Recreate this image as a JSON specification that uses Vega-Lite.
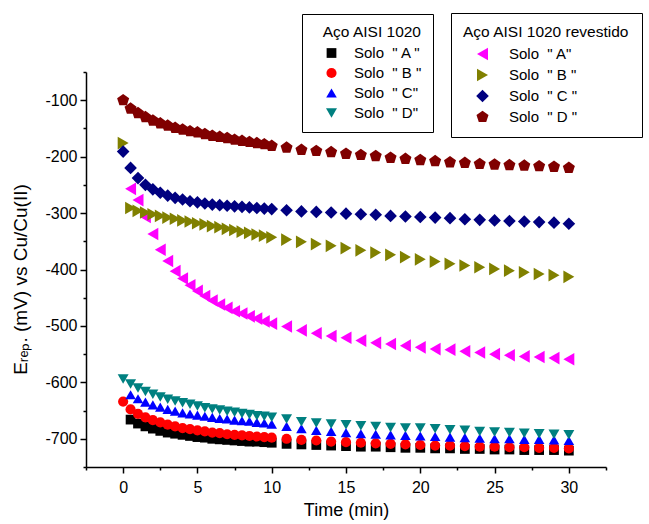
{
  "$schema": "https://vega.github.io/schema/vega-lite/v6.json",
  "autosize": {"type": "none"},
  "width": 520,
  "height": 395,
  "padding": {"left": 86, "top": 72, "right": 43, "bottom": 57},
  "background": "white",
  "datasets": {
    "plain": [
      {"t":0.5,"v":-666,"s":"A"},{"t":1,"v":-673,"s":"A"},{"t":1.5,"v":-678,"s":"A"},{"t":2,"v":-682,"s":"A"},{"t":2.5,"v":-686,"s":"A"},{"t":3,"v":-689,"s":"A"},{"t":3.5,"v":-691,"s":"A"},{"t":4,"v":-693,"s":"A"},{"t":4.5,"v":-695,"s":"A"},{"t":5,"v":-697,"s":"A"},{"t":5.5,"v":-698,"s":"A"},{"t":6,"v":-700,"s":"A"},{"t":6.5,"v":-701,"s":"A"},{"t":7,"v":-702,"s":"A"},{"t":7.5,"v":-703,"s":"A"},{"t":8,"v":-704,"s":"A"},{"t":8.5,"v":-705,"s":"A"},{"t":9,"v":-705,"s":"A"},{"t":9.5,"v":-706,"s":"A"},{"t":10,"v":-707,"s":"A"},
      {"t":11,"v":-709,"s":"A"},{"t":12,"v":-710,"s":"A"},{"t":13,"v":-711,"s":"A"},{"t":14,"v":-712,"s":"A"},{"t":15,"v":-713,"s":"A"},{"t":16,"v":-714,"s":"A"},{"t":17,"v":-714,"s":"A"},{"t":18,"v":-715,"s":"A"},{"t":19,"v":-716,"s":"A"},{"t":20,"v":-716,"s":"A"},{"t":21,"v":-717,"s":"A"},{"t":22,"v":-717,"s":"A"},{"t":23,"v":-718,"s":"A"},{"t":24,"v":-718,"s":"A"},{"t":25,"v":-719,"s":"A"},{"t":26,"v":-719,"s":"A"},{"t":27,"v":-720,"s":"A"},{"t":28,"v":-720,"s":"A"},{"t":29,"v":-720,"s":"A"},{"t":30,"v":-721,"s":"A"},
      {"t":0,"v":-634,"s":"B"},{"t":0.5,"v":-648,"s":"B"},{"t":1,"v":-656,"s":"B"},{"t":1.5,"v":-662,"s":"B"},{"t":2,"v":-667,"s":"B"},{"t":2.5,"v":-671,"s":"B"},{"t":3,"v":-675,"s":"B"},{"t":3.5,"v":-678,"s":"B"},{"t":4,"v":-681,"s":"B"},{"t":4.5,"v":-683,"s":"B"},{"t":5,"v":-685,"s":"B"},{"t":5.5,"v":-687,"s":"B"},{"t":6,"v":-689,"s":"B"},{"t":6.5,"v":-690,"s":"B"},{"t":7,"v":-692,"s":"B"},{"t":7.5,"v":-693,"s":"B"},{"t":8,"v":-694,"s":"B"},{"t":8.5,"v":-695,"s":"B"},{"t":9,"v":-696,"s":"B"},{"t":9.5,"v":-697,"s":"B"},{"t":10,"v":-698,"s":"B"},
      {"t":11,"v":-700,"s":"B"},{"t":12,"v":-702,"s":"B"},{"t":13,"v":-703,"s":"B"},{"t":14,"v":-705,"s":"B"},{"t":15,"v":-706,"s":"B"},{"t":16,"v":-707,"s":"B"},{"t":17,"v":-708,"s":"B"},{"t":18,"v":-709,"s":"B"},{"t":19,"v":-710,"s":"B"},{"t":20,"v":-711,"s":"B"},{"t":21,"v":-712,"s":"B"},{"t":22,"v":-712,"s":"B"},{"t":23,"v":-713,"s":"B"},{"t":24,"v":-714,"s":"B"},{"t":25,"v":-714,"s":"B"},{"t":26,"v":-715,"s":"B"},{"t":27,"v":-715,"s":"B"},{"t":28,"v":-716,"s":"B"},{"t":29,"v":-716,"s":"B"},{"t":30,"v":-717,"s":"B"},
      {"t":0.5,"v":-622,"s":"C"},{"t":1,"v":-629,"s":"C"},{"t":1.5,"v":-635,"s":"C"},{"t":2,"v":-640,"s":"C"},{"t":2.5,"v":-644,"s":"C"},{"t":3,"v":-648,"s":"C"},{"t":3.5,"v":-651,"s":"C"},{"t":4,"v":-654,"s":"C"},{"t":4.5,"v":-656,"s":"C"},{"t":5,"v":-658,"s":"C"},{"t":5.5,"v":-660,"s":"C"},{"t":6,"v":-662,"s":"C"},{"t":6.5,"v":-664,"s":"C"},{"t":7,"v":-665,"s":"C"},{"t":7.5,"v":-667,"s":"C"},{"t":8,"v":-668,"s":"C"},{"t":8.5,"v":-669,"s":"C"},{"t":9,"v":-671,"s":"C"},{"t":9.5,"v":-672,"s":"C"},{"t":10,"v":-674,"s":"C"},
      {"t":11,"v":-678,"s":"C"},{"t":12,"v":-682,"s":"C"},{"t":13,"v":-685,"s":"C"},{"t":14,"v":-687,"s":"C"},{"t":15,"v":-689,"s":"C"},{"t":16,"v":-691,"s":"C"},{"t":17,"v":-692,"s":"C"},{"t":18,"v":-693,"s":"C"},{"t":19,"v":-694,"s":"C"},{"t":20,"v":-695,"s":"C"},{"t":21,"v":-696,"s":"C"},{"t":22,"v":-697,"s":"C"},{"t":23,"v":-698,"s":"C"},{"t":24,"v":-699,"s":"C"},{"t":25,"v":-700,"s":"C"},{"t":26,"v":-700,"s":"C"},{"t":27,"v":-701,"s":"C"},{"t":28,"v":-701,"s":"C"},{"t":29,"v":-702,"s":"C"},{"t":30,"v":-703,"s":"C"},
      {"t":0,"v":-594,"s":"D"},{"t":0.5,"v":-603,"s":"D"},{"t":1,"v":-610,"s":"D"},{"t":1.5,"v":-616,"s":"D"},{"t":2,"v":-621,"s":"D"},{"t":2.5,"v":-626,"s":"D"},{"t":3,"v":-630,"s":"D"},{"t":3.5,"v":-633,"s":"D"},{"t":4,"v":-636,"s":"D"},{"t":4.5,"v":-639,"s":"D"},{"t":5,"v":-642,"s":"D"},{"t":5.5,"v":-645,"s":"D"},{"t":6,"v":-647,"s":"D"},{"t":6.5,"v":-649,"s":"D"},{"t":7,"v":-651,"s":"D"},{"t":7.5,"v":-653,"s":"D"},{"t":8,"v":-655,"s":"D"},{"t":8.5,"v":-657,"s":"D"},{"t":9,"v":-659,"s":"D"},{"t":9.5,"v":-660,"s":"D"},{"t":10,"v":-662,"s":"D"},
      {"t":11,"v":-665,"s":"D"},{"t":12,"v":-670,"s":"D"},{"t":13,"v":-672,"s":"D"},{"t":14,"v":-674,"s":"D"},{"t":15,"v":-675,"s":"D"},{"t":16,"v":-677,"s":"D"},{"t":17,"v":-678,"s":"D"},{"t":18,"v":-680,"s":"D"},{"t":19,"v":-681,"s":"D"},{"t":20,"v":-681,"s":"D"},{"t":21,"v":-682,"s":"D"},{"t":22,"v":-684,"s":"D"},{"t":23,"v":-685,"s":"D"},{"t":24,"v":-687,"s":"D"},{"t":25,"v":-688,"s":"D"},{"t":26,"v":-689,"s":"D"},{"t":27,"v":-690,"s":"D"},{"t":28,"v":-691,"s":"D"},{"t":29,"v":-692,"s":"D"},{"t":30,"v":-693,"s":"D"}
    ],
    "coated": [
      {"t":0.5,"v":-257,"s":"A"},{"t":1,"v":-277,"s":"A"},{"t":1.5,"v":-307,"s":"A"},{"t":2,"v":-337,"s":"A"},{"t":2.5,"v":-365,"s":"A"},{"t":3,"v":-385,"s":"A"},{"t":3.5,"v":-403,"s":"A"},{"t":4,"v":-416,"s":"A"},{"t":4.5,"v":-428,"s":"A"},{"t":5,"v":-438,"s":"A"},{"t":5.5,"v":-447,"s":"A"},{"t":6,"v":-455,"s":"A"},{"t":6.5,"v":-462,"s":"A"},{"t":7,"v":-468,"s":"A"},{"t":7.5,"v":-474,"s":"A"},{"t":8,"v":-478,"s":"A"},{"t":8.5,"v":-483,"s":"A"},{"t":9,"v":-487,"s":"A"},{"t":9.5,"v":-492,"s":"A"},{"t":10,"v":-496,"s":"A"},
      {"t":11,"v":-501,"s":"A"},{"t":12,"v":-508,"s":"A"},{"t":13,"v":-513,"s":"A"},{"t":14,"v":-518,"s":"A"},{"t":15,"v":-521,"s":"A"},{"t":16,"v":-526,"s":"A"},{"t":17,"v":-530,"s":"A"},{"t":18,"v":-532,"s":"A"},{"t":19,"v":-535,"s":"A"},{"t":20,"v":-538,"s":"A"},{"t":21,"v":-541,"s":"A"},{"t":22,"v":-542,"s":"A"},{"t":23,"v":-545,"s":"A"},{"t":24,"v":-547,"s":"A"},{"t":25,"v":-550,"s":"A"},{"t":26,"v":-552,"s":"A"},{"t":27,"v":-554,"s":"A"},{"t":28,"v":-555,"s":"A"},{"t":29,"v":-557,"s":"A"},{"t":30,"v":-559,"s":"A"},
      {"t":0,"v":-176,"s":"B"},{"t":0.5,"v":-291,"s":"B"},{"t":1,"v":-296,"s":"B"},{"t":1.5,"v":-299,"s":"B"},{"t":2,"v":-302,"s":"B"},{"t":2.5,"v":-305,"s":"B"},{"t":3,"v":-308,"s":"B"},{"t":3.5,"v":-310,"s":"B"},{"t":4,"v":-313,"s":"B"},{"t":4.5,"v":-315,"s":"B"},{"t":5,"v":-318,"s":"B"},{"t":5.5,"v":-320,"s":"B"},{"t":6,"v":-323,"s":"B"},{"t":6.5,"v":-325,"s":"B"},{"t":7,"v":-328,"s":"B"},{"t":7.5,"v":-330,"s":"B"},{"t":8,"v":-333,"s":"B"},{"t":8.5,"v":-335,"s":"B"},{"t":9,"v":-338,"s":"B"},{"t":9.5,"v":-340,"s":"B"},{"t":10,"v":-343,"s":"B"},
      {"t":11,"v":-347,"s":"B"},{"t":12,"v":-351,"s":"B"},{"t":13,"v":-355,"s":"B"},{"t":14,"v":-358,"s":"B"},{"t":15,"v":-362,"s":"B"},{"t":16,"v":-366,"s":"B"},{"t":17,"v":-370,"s":"B"},{"t":18,"v":-374,"s":"B"},{"t":19,"v":-378,"s":"B"},{"t":20,"v":-382,"s":"B"},{"t":21,"v":-386,"s":"B"},{"t":22,"v":-390,"s":"B"},{"t":23,"v":-393,"s":"B"},{"t":24,"v":-396,"s":"B"},{"t":25,"v":-399,"s":"B"},{"t":26,"v":-402,"s":"B"},{"t":27,"v":-405,"s":"B"},{"t":28,"v":-408,"s":"B"},{"t":29,"v":-410,"s":"B"},{"t":30,"v":-413,"s":"B"},
      {"t":0,"v":-191,"s":"C"},{"t":0.5,"v":-220,"s":"C"},{"t":1,"v":-238,"s":"C"},{"t":1.5,"v":-250,"s":"C"},{"t":2,"v":-258,"s":"C"},{"t":2.5,"v":-264,"s":"C"},{"t":3,"v":-269,"s":"C"},{"t":3.5,"v":-273,"s":"C"},{"t":4,"v":-276,"s":"C"},{"t":4.5,"v":-279,"s":"C"},{"t":5,"v":-281,"s":"C"},{"t":5.5,"v":-283,"s":"C"},{"t":6,"v":-285,"s":"C"},{"t":6.5,"v":-286,"s":"C"},{"t":7,"v":-287,"s":"C"},{"t":7.5,"v":-288,"s":"C"},{"t":8,"v":-289,"s":"C"},{"t":8.5,"v":-290,"s":"C"},{"t":9,"v":-291,"s":"C"},{"t":9.5,"v":-292,"s":"C"},{"t":10,"v":-293,"s":"C"},
      {"t":11,"v":-295,"s":"C"},{"t":12,"v":-297,"s":"C"},{"t":13,"v":-298,"s":"C"},{"t":14,"v":-299,"s":"C"},{"t":15,"v":-301,"s":"C"},{"t":16,"v":-302,"s":"C"},{"t":17,"v":-303,"s":"C"},{"t":18,"v":-305,"s":"C"},{"t":19,"v":-306,"s":"C"},{"t":20,"v":-307,"s":"C"},{"t":21,"v":-308,"s":"C"},{"t":22,"v":-309,"s":"C"},{"t":23,"v":-311,"s":"C"},{"t":24,"v":-312,"s":"C"},{"t":25,"v":-313,"s":"C"},{"t":26,"v":-314,"s":"C"},{"t":27,"v":-315,"s":"C"},{"t":28,"v":-316,"s":"C"},{"t":29,"v":-317,"s":"C"},{"t":30,"v":-319,"s":"C"},
      {"t":0,"v":-100,"s":"D"},{"t":0.5,"v":-115,"s":"D"},{"t":1,"v":-123,"s":"D"},{"t":1.5,"v":-130,"s":"D"},{"t":2,"v":-136,"s":"D"},{"t":2.5,"v":-141,"s":"D"},{"t":3,"v":-145,"s":"D"},{"t":3.5,"v":-149,"s":"D"},{"t":4,"v":-152,"s":"D"},{"t":4.5,"v":-155,"s":"D"},{"t":5,"v":-157,"s":"D"},{"t":5.5,"v":-160,"s":"D"},{"t":6,"v":-163,"s":"D"},{"t":6.5,"v":-165,"s":"D"},{"t":7,"v":-167,"s":"D"},{"t":7.5,"v":-170,"s":"D"},{"t":8,"v":-172,"s":"D"},{"t":8.5,"v":-174,"s":"D"},{"t":9,"v":-176,"s":"D"},{"t":9.5,"v":-178,"s":"D"},{"t":10,"v":-181,"s":"D"},
      {"t":11,"v":-184,"s":"D"},{"t":12,"v":-188,"s":"D"},{"t":13,"v":-190,"s":"D"},{"t":14,"v":-192,"s":"D"},{"t":15,"v":-195,"s":"D"},{"t":16,"v":-197,"s":"D"},{"t":17,"v":-199,"s":"D"},{"t":18,"v":-202,"s":"D"},{"t":19,"v":-204,"s":"D"},{"t":20,"v":-206,"s":"D"},{"t":21,"v":-208,"s":"D"},{"t":22,"v":-210,"s":"D"},{"t":23,"v":-211,"s":"D"},{"t":24,"v":-213,"s":"D"},{"t":25,"v":-214,"s":"D"},{"t":26,"v":-215,"s":"D"},{"t":27,"v":-216,"s":"D"},{"t":28,"v":-217,"s":"D"},{"t":29,"v":-218,"s":"D"},{"t":30,"v":-220,"s":"D"}
    ]
  },
  "encoding": {
    "x": {
      "field": "t", "type": "quantitative",
      "scale": {"domain": [-2.5, 32.5], "nice": false, "zero": false},
      "axis": {
        "title": "Time (min)",
        "values": [-2.5,0,2.5,5,7.5,10,12.5,15,17.5,20,22.5,25,27.5,30,32.5],
        "labelExpr": "datum.value % 5 === 0 ? datum.label : ''",
        "tickSize": {"condition": {"test": "datum.value % 5 === 0", "value": 6}, "value": 3},
        "labelPadding": 6,
        "titleBaseline": "top",
        "titleFontSize": 18,
        "titleY": 34
      }
    },
    "y": {
      "field": "v", "type": "quantitative",
      "scale": {"domain": [-750, -50], "nice": false, "zero": false},
      "axis": {
        "title": "Eᵣₑₚ. (mV) vs Cu/Cu(II)",
        "values": [-750,-700,-650,-600,-550,-500,-450,-400,-350,-300,-250,-200,-150,-100,-50],
        "labelExpr": "datum.value % 100 === 0 ? replace(datum.label, '\u2212', '-') : ''",
        "tickSize": {"condition": {"test": "datum.value % 100 === 0", "value": 6}, "value": 3},
        "labelPadding": 3,
        "titleAngle": 270,
        "titleBaseline": "top",
        "titleAlign": "center",
        "titleX": -75,
        "titleY": 207
      }
    }
  },
  "layer": [
    {
      "data": {"name": "plain"},
      "mark": {"type": "point", "filled": true, "opacity": 1, "strokeWidth": 0},
      "encoding": {
        "color": {
          "field": "s", "type": "nominal",
          "scale": {"domain": ["A","B","C","D"], "range": ["#000000","#ff0000","#0000ff","#008080"]},
          "legend": {
            "title": "Aço AISI 1020",
            "orient": "none", "legendX": 216, "legendY": -58,
            "padding": 11, "titleAnchor": "end", "symbolOffset": 11, "labelOffset": 15,
            "rowPadding": 4, "titlePadding": 5,
            "strokeColor": "black", "fillColor": "white",
            "labelExpr": "datum.label === 'A' ? 'Solo\u00a0\u00a0\" A \"' : datum.label === 'B' ? 'Solo\u00a0\u00a0\" B \"' : datum.label === 'C' ? 'Solo\u00a0\u00a0\" C\"' : 'Solo\u00a0\u00a0\" D\"'"
          }
        },
        "shape": {
          "field": "s", "type": "nominal",
          "scale": {"domain": ["A","B","C","D"], "range": ["square","circle","triangle-up","triangle-down"]}
        },
        "size": {
          "field": "s", "type": "nominal",
          "scale": {"domain": ["A","B","C","D"], "range": [95, 120, 150, 150]}
        }
      }
    },
    {
      "data": {"name": "coated"},
      "mark": {"type": "point", "filled": true, "opacity": 1, "strokeWidth": 0},
      "encoding": {
        "color": {
          "field": "s", "type": "nominal",
          "scale": {"domain": ["A","B","C","D"], "range": ["#ff00ff","#808000","#000080","#800000"]},
          "legend": {
            "title": "Aço AISI 1020 revestido",
            "orient": "none", "legendX": 365, "legendY": -59,
            "padding": 12, "titleAnchor": "start", "symbolOffset": 12, "labelOffset": 19,
            "rowPadding": 5, "titlePadding": 6,
            "strokeColor": "black", "fillColor": "white",
            "labelExpr": "datum.label === 'A' ? 'Solo\u00a0\u00a0\" A\"' : datum.label === 'B' ? 'Solo\u00a0\u00a0\" B \"' : datum.label === 'C' ? 'Solo\u00a0\u00a0\" C \"' : 'Solo\u00a0\u00a0\" D \"'"
          }
        },
        "shape": {
          "field": "s", "type": "nominal",
          "scale": {"domain": ["A","B","C","D"], "range": ["triangle-left","triangle-right","diamond","M0,-1L0.951,-0.309L0.588,0.809L-0.588,0.809L-0.951,-0.309Z"]}
        },
        "size": {
          "field": "s", "type": "nominal",
          "scale": {"domain": ["A","B","C","D"], "range": [160, 160, 150, 135]}
        }
      }
    }
  ],
  "resolve": {"scale": {"color": "independent", "shape": "independent", "size": "independent"}},
  "config": {
    "view": {"stroke": null},
    "font": "Liberation Sans",
    "axis": {
      "grid": false,
      "domainColor": "black", "domainWidth": 1.5,
      "tickColor": "black", "tickWidth": 1.5,
      "labelColor": "black", "labelFont": "Liberation Sans", "labelFontSize": 16,
      "titleColor": "black", "titleFont": "Liberation Sans", "titleFontSize": 19, "titleFontWeight": "normal"
    },
    "legend": {
      "titleFont": "Liberation Sans", "titleFontSize": 15.5, "titleFontWeight": "normal", "titleColor": "black",
      "labelFont": "Liberation Sans", "labelFontSize": 15, "labelColor": "black",
      "symbolOpacity": 1, "symbolStrokeWidth": 0, "labelLimit": 300
    }
  }
}
